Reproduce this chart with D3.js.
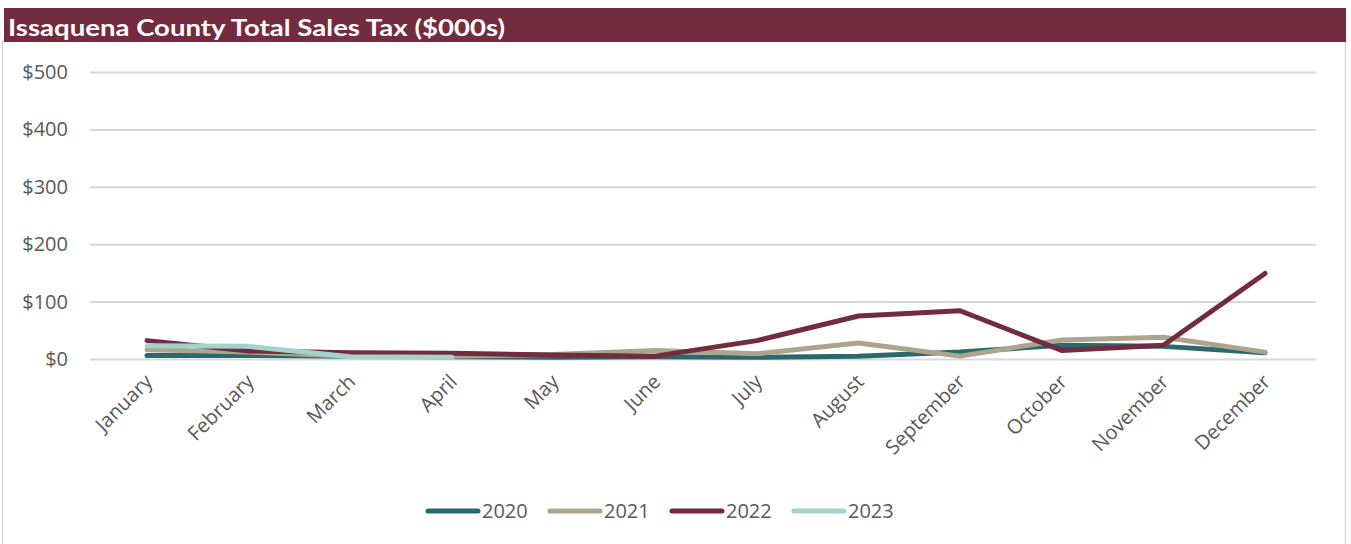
<!DOCTYPE html>
<html>
<head>
<meta charset="utf-8">
<script src="https://cdn.jsdelivr.net/npm/d3@7"></script>
<style>
  body { margin: 0; background: #fff; }
  text { font-family: "Open Sans", Lato, sans-serif; }
</style>
</head>
<body>
<div id="chart"></div>
<script>
const months = ['January', 'February', 'March', 'April', 'May', 'June', 'July',
    'August', 'September', 'October', 'November', 'December'];
const yTicks = [0, 100, 200, 300, 400, 500];

const s2020 = [6, 6, 5, 4, 3, 4, 3, 5, 12, 24, 22, 11];
const s2021 = [16, 12, 5, 5, 8, 15, 9, 28, 5, 33, 38, 12];
const s2022 = [32, 14, 11, 10, 7, 5, 32, 75, 84, 15, 24, 149];
const s2023 = [23, 22, 4, 3];

const series = [
    { name: '2020', values: s2020, color: '#2a686b' },
    { name: '2021', values: s2021, color: '#aca58e' },
    { name: '2022', values: s2022, color: '#722b3f' },
    { name: '2023', values: s2023, color: '#a2d3cc' }
];

const width = 1351, height = 544;

const svg = d3.select('#chart').append('svg')
    .attr('width', width)
    .attr('height', height);

// moldura do gráfico
svg.append('rect')
    .attr('x', 2.5).attr('y', 41)
    .attr('width', 1343).attr('height', 510)
    .attr('fill', '#fff')
    .attr('stroke', '#d9d9d9')
    .attr('stroke-width', 1.5);

// barra do título
svg.append('rect')
    .attr('x', 4).attr('y', 8)
    .attr('width', 1342).attr('height', 34)
    .attr('fill', '#722b3f');

const title = svg.append('text')
    .attr('x', 8).attr('y', 36)
    .attr('fill', '#fff')
    .style('font-size', '23px')
    .style('font-weight', 'bold')
    .style('font-family', 'Lato, sans-serif')
    .text('Issaquena County Total Sales Tax ($000s)');
// ajusta a largura do título ao da referência (~497px)
title.attr('textLength', 497).attr('lengthAdjust', 'spacingAndGlyphs');

const x = d3.scalePoint()
    .domain(months)
    .range([147, 1265]);

const y = d3.scaleLinear()
    .domain([0, 500])
    .range([359, 72]);

// linhas de grade
const yAxis = svg.append('g')
    .attr('transform', 'translate(90,0)')
    .call(d3.axisLeft(y).tickValues(yTicks).tickSize(-1226).tickPadding(22)
        .tickFormat(d => '$' + d));
yAxis.select('.domain').remove();
yAxis.selectAll('line').attr('stroke', '#d9d9d9').attr('stroke-width', 2);
yAxis.selectAll('text')
    .attr('fill', '#595959')
    .style('font-size', '20px')
    .style('font-family', '"Open Sans", sans-serif');

// eixo x
const xAxis = svg.append('g')
    .attr('transform', 'translate(0,359)')
    .call(d3.axisBottom(x).tickSize(0).tickPadding(0));
xAxis.select('.domain').remove();
xAxis.selectAll('text')
    .attr('fill', '#595959')
    .style('font-size', '20px')
    .style('font-family', '"Open Sans", sans-serif')
    .attr('text-anchor', 'end')
    .attr('dy', 0)
    .attr('transform', 'translate(6,24) rotate(-45)');

const line = d3.line()
    .x((d, i) => x(months[i]))
    .y(d => y(d));

svg.append('g').selectAll('path')
    .data(series)
    .enter().append('path')
    .attr('d', d => line(d.values))
    .attr('fill', 'none')
    .attr('stroke', d => d.color)
    .attr('stroke-width', 5)
    .attr('stroke-linecap', 'round')
    .attr('stroke-linejoin', 'round');

// legenda
const legend = svg.append('g')
    .selectAll('g')
    .data(series)
    .enter().append('g')
    .attr('transform', (d, i) => `translate(${428 + i * 122},511)`);

legend.append('line')
    .attr('x1', 0).attr('x2', 50)
    .attr('stroke', d => d.color)
    .attr('stroke-width', 5)
    .attr('stroke-linecap', 'round');

legend.append('text')
    .attr('x', 54).attr('y', 7)
    .attr('fill', '#595959')
    .style('font-size', '20px')
    .text(d => d.name);
</script>
</body>
</html>
